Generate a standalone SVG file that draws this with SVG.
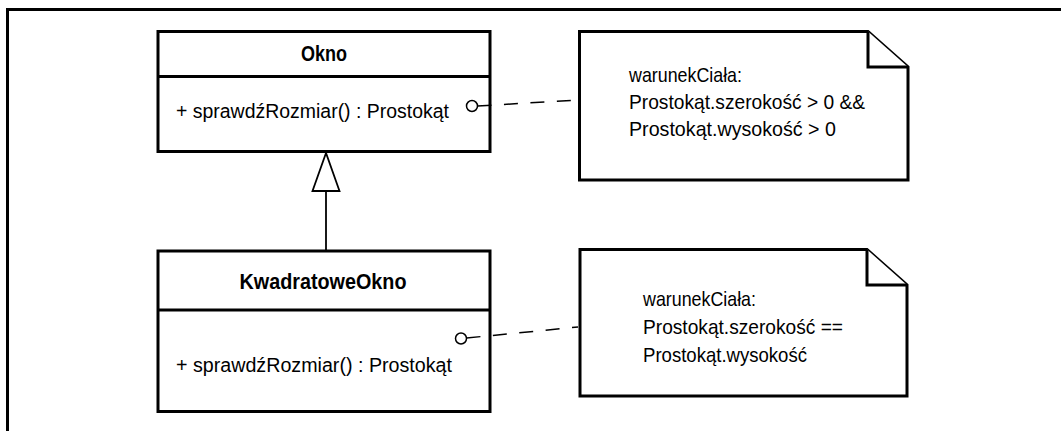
<svg xmlns="http://www.w3.org/2000/svg" width="1061" height="431" viewBox="0 0 1061 431">
<style>
.box{fill:#fff;stroke:#000;stroke-width:3}
.frame{fill:none;stroke:#000;stroke-width:3}
.title{font-family:"Liberation Sans",Arial,sans-serif;font-weight:bold;font-size:22px;fill:#000;text-anchor:middle}
.txt{font-family:"Liberation Sans",Arial,sans-serif;font-size:20px;fill:#000}
.note{font-family:"Liberation Sans",Arial,sans-serif;font-size:21px;fill:#000}
.dash{fill:none;stroke:#000;stroke-width:1.5;stroke-dasharray:14 12.5}
.line{fill:none;stroke:#000;stroke-width:1.8}
.lolli{fill:#fff;stroke:#000;stroke-width:1.5}
</style>
<rect width="1061" height="431" fill="#fff"/>
<path class="frame" d="M7.5,431 V9.5 H1061"/>
<g id="okno">
  <rect class="box" x="158" y="31.5" width="332" height="120"/>
  <line class="box" x1="158" y1="76.5" x2="490" y2="76.5"/>
  <text class="title" x="324" y="61" textLength="46" lengthAdjust="spacingAndGlyphs">Okno</text>
  <text class="txt" x="176" y="118" textLength="273" lengthAdjust="spacingAndGlyphs">+ sprawdźRozmiar() : Prostokąt</text>
</g>
<g id="kwadratoweOkno">
  <rect class="box" x="158" y="251" width="332" height="160.5"/>
  <line class="box" x1="158" y1="310" x2="490" y2="310"/>
  <text class="title" x="323" y="289" textLength="167" lengthAdjust="spacingAndGlyphs">KwadratoweOkno</text>
  <text class="txt" x="176" y="372" textLength="276" lengthAdjust="spacingAndGlyphs">+ sprawdźRozmiar() : Prostokąt</text>
</g>
<g id="note1">
  <path class="box" d="M579.5,31.5 H868 L908,67 V180 H579.5 Z"/>
  <path class="box" fill="none" d="M868,31.5 V67 H908"/>
  <text class="note" x="629" y="82" textLength="113" lengthAdjust="spacingAndGlyphs">warunekCiała:</text>
  <text class="note" x="629" y="109" textLength="236" lengthAdjust="spacingAndGlyphs">Prostokąt.szerokość &gt; 0 &amp;&amp;</text>
  <text class="note" x="629" y="136" textLength="207" lengthAdjust="spacingAndGlyphs">Prostokąt.wysokość &gt; 0</text>
</g>
<g id="note2">
  <path class="box" d="M580,249.5 H867 L907,285 V396 H580 Z"/>
  <path class="box" fill="none" d="M867,249.5 V285 H907"/>
  <text class="note" x="643" y="306" textLength="113" lengthAdjust="spacingAndGlyphs">warunekCiała:</text>
  <text class="note" x="643" y="334" textLength="200" lengthAdjust="spacingAndGlyphs">Prostokąt.szerokość ==</text>
  <text class="note" x="643" y="362" textLength="164" lengthAdjust="spacingAndGlyphs">Prostokąt.wysokość</text>
</g>
<g id="connectors">
  <line class="line" x1="326" y1="191" x2="326" y2="251"/>
  <polygon points="326,153 312.5,191 339.5,191" fill="#fff" stroke="#000" stroke-width="1.8"/>
  <line class="dash" x1="477.5" y1="106" x2="578" y2="100"/>
  <line class="dash" x1="466.5" y1="338" x2="578" y2="327"/>
  <circle class="lolli" cx="472" cy="106" r="5.5"/>
  <circle class="lolli" cx="461" cy="338.5" r="5.5"/>
</g>
</svg>
